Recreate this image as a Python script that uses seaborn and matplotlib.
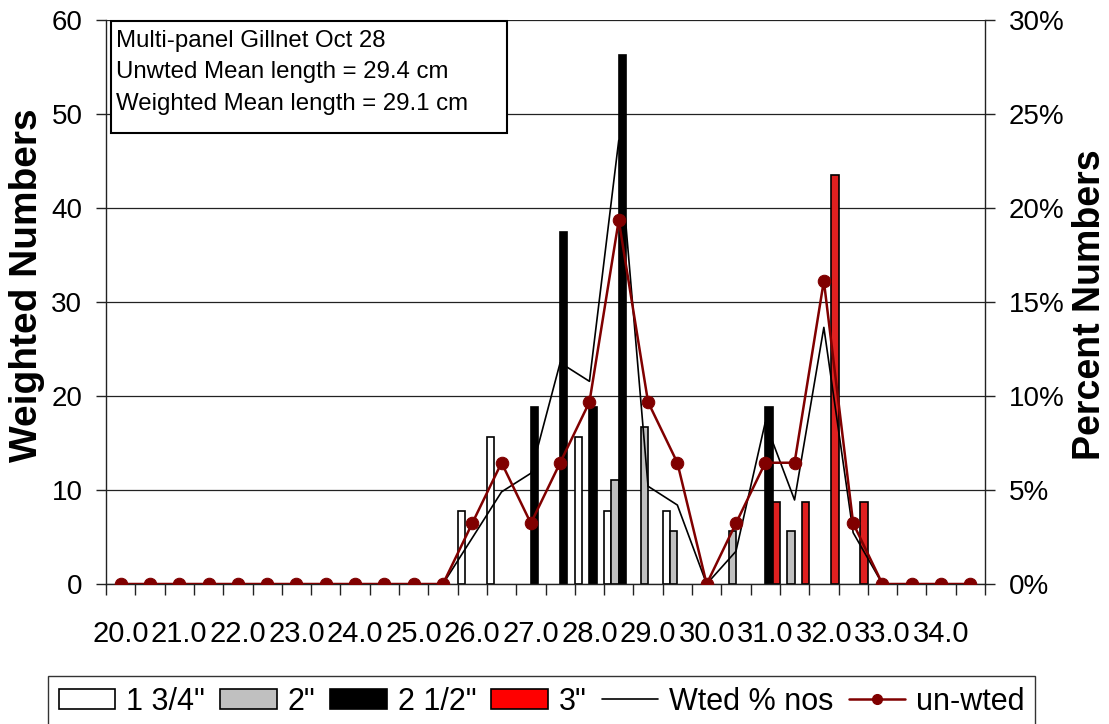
import numpy as np
import pandas as pd
import matplotlib
matplotlib.use("Agg")
import matplotlib.pyplot as plt
import seaborn as sns
from matplotlib.patches import Patch, Rectangle
from matplotlib.lines import Line2D
from matplotlib.ticker import PercentFormatter

sns.set_style("white")
plt.rcParams['font.family'] = ['Liberation Sans', 'DejaVu Sans']
plt.rcParams['text.color'] = 'black'
plt.rcParams['xtick.color'] = 'black'
plt.rcParams['ytick.color'] = 'black'
plt.rcParams['axes.labelcolor'] = 'black'

# length classes (cm)
lengths = ["20.0", "20.5", "21.0", "21.5", "22.0", "22.5", "23.0", "23.5", "24.0", "24.5",
           "25.0", "25.5", "26.0", "26.5", "27.0", "27.5", "28.0", "28.5", "29.0", "29.5",
           "30.0", "30.5", "31.0", "31.5", "32.0", "32.5", "33.0", "33.5", "34.0", "34.5"]

# weighted numbers by mesh size
mesh_1_75 = [0, 0, 0, 0, 0, 0, 0, 0, 0, 0, 0, 0, 7.8, 15.6, 0, 0, 15.6, 7.8, 0, 7.8,
             0, 0, 0, 0, 0, 0, 0, 0, 0, 0]
mesh_2 = [0, 0, 0, 0, 0, 0, 0, 0, 0, 0, 0, 0, 0, 0, 0, 0, 0, 11.1, 16.7, 5.6,
          0, 5.6, 0, 5.6, 0, 0, 0, 0, 0, 0]
mesh_2_5 = [0, 0, 0, 0, 0, 0, 0, 0, 0, 0, 0, 0, 0, 0, 18.8, 37.5, 18.8, 56.3, 0, 0,
            0, 0, 18.8, 0, 0, 0, 0, 0, 0, 0]
mesh_3 = [0, 0, 0, 0, 0, 0, 0, 0, 0, 0, 0, 0, 0, 0, 0, 0, 0, 0, 0, 0,
          0, 0, 8.7, 8.7, 43.5, 8.7, 0, 0, 0, 0]

# percent numbers (fractions)
wted_pct = [0, 0, 0, 0, 0, 0, 0, 0, 0, 0, 0, 0, 0.0245, 0.049, 0.0589, 0.1177, 0.1078, 0.236, 0.052, 0.042,
            0, 0.0174, 0.086, 0.0447, 0.1365, 0.0273, 0, 0, 0, 0]
unwted_pct = [0, 0, 0, 0, 0, 0, 0, 0, 0, 0, 0, 0, 0.0323, 0.0645, 0.0323, 0.0645, 0.0968, 0.1935, 0.0968, 0.0645,
              0, 0.0323, 0.0645, 0.0645, 0.1613, 0.0323, 0, 0, 0, 0]

mesh_names = ['1 3/4"', '2"', '2 1/2"', '3"']
mesh_colors = ['white', '#C0C0C0', 'black', 'red']
box_lines = ["Multi-panel Gillnet Oct 28",
             "Unwted Mean length = 29.4 cm",
             "Weighted Mean length = 29.1 cm"]

rows = []
for name, vals in zip(mesh_names, [mesh_1_75, mesh_2, mesh_2_5, mesh_3]):
    for l, v in zip(lengths, vals):
        if v > 0:
            rows.append({'Length': l, 'Mesh': name, 'Weighted': v})
df = pd.DataFrame(rows)

W, H = 1109, 724
fig = plt.figure(figsize=(W / 100, H / 100), dpi=100)
ax = fig.add_axes([106 / W, 1 - 584 / H, (985 - 106) / W, (584 - 20) / H])

sns.barplot(data=df, x='Length', y='Weighted', hue='Mesh', order=lengths, hue_order=mesh_names,
            palette=mesh_colors, width=1, errorbar=None, edgecolor='black', linewidth=1.2,
            legend=False, ax=ax)

ax.set_ylim(0, 60)
ax.set_xlim(-0.5, len(lengths) - 0.5)
ax.set_yticks(range(0, 61, 10))
ax.set_axisbelow(True)
ax.yaxis.grid(True, color='#222222', lw=0.9)
ax.set_xlabel('')
ax.set_ylabel('')
for s in ['left', 'bottom', 'right']:
    ax.spines[s].set_color('#222222')
    ax.spines[s].set_linewidth(1.0)
ax.spines['top'].set_visible(False)

# ticks at class boundaries, labels on every other class
ax.set_xticks(np.arange(-0.5, len(lengths), 1))
ax.set_xticklabels([])
ax.tick_params(axis='x', which='major', direction='out', length=8, width=1, color='#222222', bottom=True)
ax.set_xticks(range(0, len(lengths), 2), minor=True)
ax.set_xticklabels(lengths[::2], minor=True, fontsize=21)
ax.tick_params(axis='x', which='minor', length=0, pad=26)
ax.tick_params(axis='y', direction='out', length=7, width=1, color='#222222', labelsize=20, pad=10, left=True)

ax2 = ax.twinx()
x_pos = np.arange(len(lengths))
sns.lineplot(x=x_pos, y=wted_pct, color='black', lw=1.2, ax=ax2)
sns.lineplot(x=x_pos, y=unwted_pct, color='#800000', lw=1.8, marker='o', markersize=9,
             markeredgecolor='#800000', ax=ax2)
ax2.set_ylim(0, 0.30)
ax2.set_yticks(np.arange(0, 0.31, 0.05))
ax2.yaxis.set_major_formatter(PercentFormatter(1.0, decimals=0))
ax2.tick_params(axis='y', direction='out', length=7, width=1, color='#222222', labelsize=20, pad=10, right=True)
ax2.set_ylabel('')
for s in ax2.spines.values():
    s.set_visible(False)

fig.text(27 / W, 1 - 285 / H, 'Weighted Numbers', rotation=90, ha='center', va='center',
         fontsize=28, fontweight='bold')
fig.text(1090 / W, 1 - 305 / H, 'Percent Numbers', rotation=90, ha='center', va='center',
         fontsize=27, fontweight='bold')

# info box
fig.patches.append(Rectangle((111 / W, 1 - 133 / H), (507 - 111) / W, (133 - 21) / H,
                             transform=fig.transFigure, facecolor='white', edgecolor='black',
                             lw=1.5, zorder=3))
for txt, yb in zip(box_lines, [47, 78, 110]):
    fig.text(116 / W, 1 - yb / H, txt, ha='left', va='baseline', fontsize=17.3, zorder=4)

handles = [Patch(facecolor=c, edgecolor='black', lw=1.2) for c in mesh_colors]
handles += [Line2D([], [], color='black', lw=1.2),
            Line2D([], [], color='#800000', lw=1.8, marker='o', markersize=7)]
labels = mesh_names + ['Wted % nos', 'un-wted']
leg = fig.legend(handles, labels, loc='upper left', bbox_to_anchor=(48 / W, 1 - 676 / H),
                 ncol=6, fontsize=22, frameon=True, fancybox=False, edgecolor='black',
                 handlelength=1.85, handleheight=0.65, handletextpad=0.35, columnspacing=0.5,
                 borderpad=0.35, borderaxespad=0)
leg.get_frame().set_linewidth(1.0)

fig.savefig('out.png', dpi=100)
